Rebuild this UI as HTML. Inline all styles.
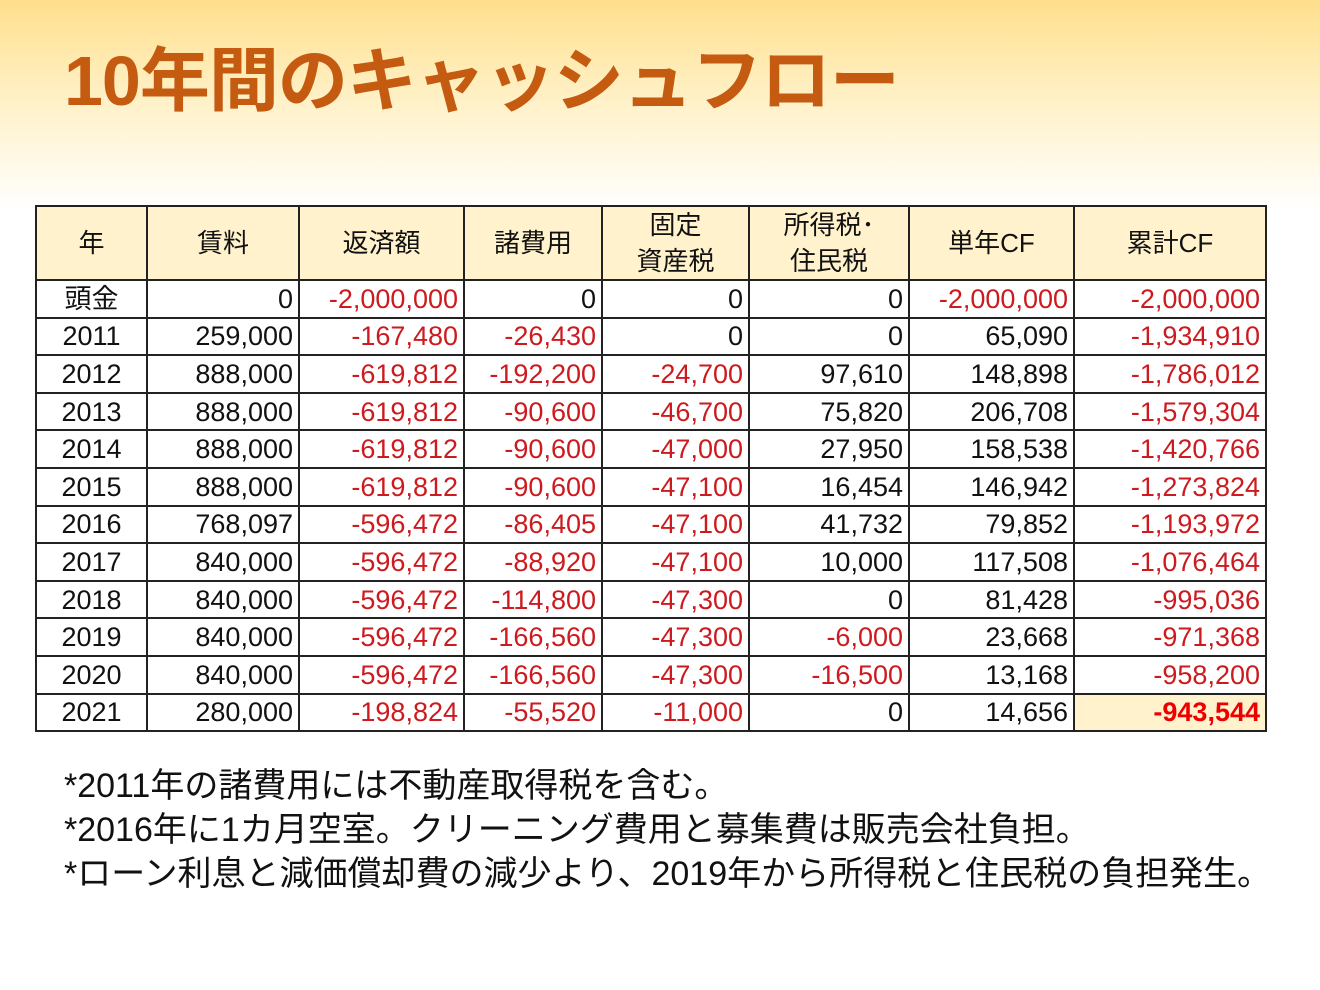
<!DOCTYPE html>
<html><head><meta charset="utf-8">
<style>
*{margin:0;padding:0;box-sizing:border-box}
body{width:1320px;height:990px;position:relative;overflow:hidden;background:#fff;font-family:"Liberation Sans","Noto Sans CJK JP",sans-serif}
.bg{position:absolute;left:0;top:0;width:1320px;height:210px;background:linear-gradient(#ffdf8c 0%,#fff0c4 45%,#ffffff 100%)}
h1{position:absolute;left:64px;top:36px;font-size:70px;line-height:90px;color:#c55a11;font-weight:bold;letter-spacing:-1px;font-family:"Liberation Sans","Noto Sans CJK JP",sans-serif}
table{position:absolute;left:35px;top:205px;border-collapse:collapse;table-layout:fixed;width:1230px}
td,th{border:2px solid #222;font-size:27px;font-weight:normal;height:37.6px;padding:0 5px;text-align:right;white-space:nowrap;color:#111;line-height:30px}
th{background:#fff2cc;text-align:center;height:73px;font-size:26px;line-height:36px}
td.y{text-align:center}
.r{color:#cc1a1e}
td.hl{background:#fff2cc;font-weight:bold;color:#e00}
.notes{position:absolute;left:64px;top:764px;font-size:34px;line-height:44px;color:#111}
</style></head><body>
<div class="bg"></div>
<h1>10年間のキャッシュフロー</h1>
<table>
<colgroup><col style="width:111px"><col style="width:152px"><col style="width:165px"><col style="width:138px"><col style="width:147px"><col style="width:160px"><col style="width:165px"><col style="width:192px"></colgroup>
<tr><th>年</th><th>賃料</th><th>返済額</th><th>諸費用</th><th>固定<br>資産税</th><th>所得税･<br>住民税</th><th>単年CF</th><th>累計CF</th></tr>
<tr><td class="y">頭金</td><td>0</td><td class="r">-2,000,000</td><td>0</td><td>0</td><td>0</td><td class="r">-2,000,000</td><td class="r">-2,000,000</td></tr>
<tr><td class="y">2011</td><td>259,000</td><td class="r">-167,480</td><td class="r">-26,430</td><td>0</td><td>0</td><td>65,090</td><td class="r">-1,934,910</td></tr>
<tr><td class="y">2012</td><td>888,000</td><td class="r">-619,812</td><td class="r">-192,200</td><td class="r">-24,700</td><td>97,610</td><td>148,898</td><td class="r">-1,786,012</td></tr>
<tr><td class="y">2013</td><td>888,000</td><td class="r">-619,812</td><td class="r">-90,600</td><td class="r">-46,700</td><td>75,820</td><td>206,708</td><td class="r">-1,579,304</td></tr>
<tr><td class="y">2014</td><td>888,000</td><td class="r">-619,812</td><td class="r">-90,600</td><td class="r">-47,000</td><td>27,950</td><td>158,538</td><td class="r">-1,420,766</td></tr>
<tr><td class="y">2015</td><td>888,000</td><td class="r">-619,812</td><td class="r">-90,600</td><td class="r">-47,100</td><td>16,454</td><td>146,942</td><td class="r">-1,273,824</td></tr>
<tr><td class="y">2016</td><td>768,097</td><td class="r">-596,472</td><td class="r">-86,405</td><td class="r">-47,100</td><td>41,732</td><td>79,852</td><td class="r">-1,193,972</td></tr>
<tr><td class="y">2017</td><td>840,000</td><td class="r">-596,472</td><td class="r">-88,920</td><td class="r">-47,100</td><td>10,000</td><td>117,508</td><td class="r">-1,076,464</td></tr>
<tr><td class="y">2018</td><td>840,000</td><td class="r">-596,472</td><td class="r">-114,800</td><td class="r">-47,300</td><td>0</td><td>81,428</td><td class="r">-995,036</td></tr>
<tr><td class="y">2019</td><td>840,000</td><td class="r">-596,472</td><td class="r">-166,560</td><td class="r">-47,300</td><td class="r">-6,000</td><td>23,668</td><td class="r">-971,368</td></tr>
<tr><td class="y">2020</td><td>840,000</td><td class="r">-596,472</td><td class="r">-166,560</td><td class="r">-47,300</td><td class="r">-16,500</td><td>13,168</td><td class="r">-958,200</td></tr>
<tr><td class="y">2021</td><td>280,000</td><td class="r">-198,824</td><td class="r">-55,520</td><td class="r">-11,000</td><td>0</td><td>14,656</td><td class="hl">-943,544</td></tr>
</table>
<div class="notes">*2011年の諸費用には不動産取得税を含む。<br>*2016年に1カ月空室。クリーニング費用と募集費は販売会社負担。<br>*ローン利息と減価償却費の減少より、2019年から所得税と住民税の負担発生。</div>
</body></html>
